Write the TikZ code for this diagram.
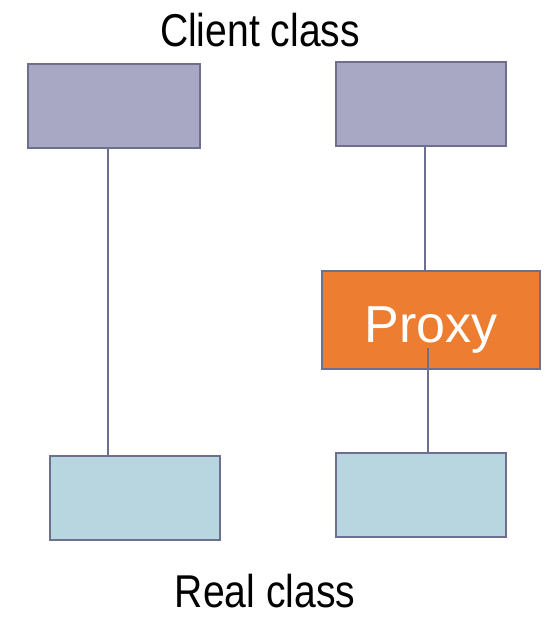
\documentclass[tikz,border=0pt]{standalone}
\usepackage{fontspec}
\setmainfont{Liberation Sans}
\newfontfamily\labelfont[FakeStretch=0.85]{Liberation Sans}
\definecolor{clientfill}{HTML}{A8A8C5}
\definecolor{realfill}{HTML}{B7D6E0}
\definecolor{proxyfill}{HTML}{ED7D31}
\definecolor{edgecol}{HTML}{6E6E8E}
\tikzset{
  box/.style={draw=edgecol, line width=2.5pt, inner sep=0pt, minimum height=84pt},
  clientbox/.style={box, fill=clientfill},
  realbox/.style={box, fill=realfill},
  proxybox/.style={box, fill=proxyfill, minimum width=218pt, minimum height=98pt},
  wire/.style={draw=edgecol, line width=2.5pt},
  title/.style={font=\labelfont\fontsize{46}{50}\selectfont, text=black, inner sep=0pt},
}
\begin{document}
\begin{tikzpicture}[x=1pt, y=-1pt]
\useasboundingbox (0,0) rectangle (550,620);
% headings
\node[title] (ct) at (260,30) {Client class};
\node[title] (rt) at (265,591) {Real class};
% direct pair
\node[clientbox, minimum width=172pt] (c1) at (114,106) {};
\node[realbox, minimum width=170pt] (r1) at (135,498) {};
\draw[wire] ([xshift=-6pt]c1.south) -- ([xshift=-6pt]c1.south |- r1.north);
% pair through the proxy
\node[clientbox, minimum width=170pt] (c2) at (421,104) {};
\node[realbox, minimum width=170pt] (r2) at (421,495) {};
\node[proxybox] (p) at (431,320) {};
\draw[wire] ([xshift=4pt]c2.south) -- ([xshift=4pt]c2.south |- p.north);
\coordinate (pin) at (428,348);
\draw[wire] (pin) -- (pin |- r2.north);
\node[text=white, font=\fontsize{52}{56}\selectfont] (pt) at (431,330) {Proxy};
\end{tikzpicture}
\end{document}
